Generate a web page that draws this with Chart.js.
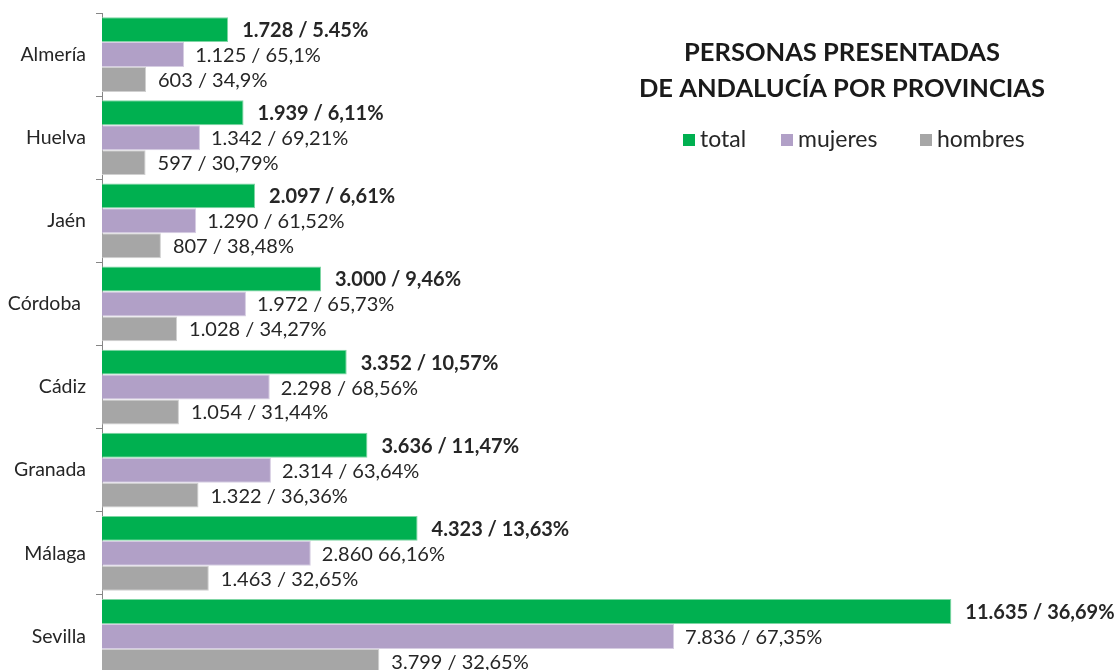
<!DOCTYPE html>
<html>
<head>
<meta charset="utf-8">
<script src="https://cdn.jsdelivr.net/npm/chart.js@4"></script>
<style>
html,body{margin:0;padding:0;background:#fff;overflow:hidden;width:1120px;height:670px;}
#wrap{position:absolute;left:0;top:0;width:1124px;height:680px;}
</style>
</head>
<body>
<div id="wrap"><canvas id="c" width="1124" height="680"></canvas></div>
<script>
const categories = ["Almería","Huelva","Jaén","Córdoba ","Cádiz","Granada","Málaga","Sevilla"];
const totalValues = [1728,1939,2097,3000,3352,3636,4323,11635];
const mujeresValues = [1125,1342,1290,1972,2298,2314,2860,7836];
const hombresValues = [603,597,807,1028,1054,1322,1463,3799];
const totalLabels = ["1.728 / 5.45%","1.939 / 6,11%","2.097 / 6,61%","3.000 / 9,46%","3.352 / 10,57%","3.636 / 11,47%","4.323 / 13,63%","11.635 / 36,69%"];
const mujeresLabels = ["1.125 / 65,1%","1.342 / 69,21%","1.290 / 61,52%","1.972 / 65,73%","2.298 / 68,56%","2.314 / 63,64%","2.860 66,16%","7.836 / 67,35%"];
const hombresLabels = ["603 / 34,9%","597 / 30,79%","807 / 38,48%","1.028 / 34,27%","1.054 / 31,44%","1.322 / 36,36%","1.463 / 32,65%","3.799 / 32,65%"];
const seriesNames = ["total","mujeres","hombres"];
const titleLines = ["PERSONAS PRESENTADAS","DE ANDALUCÍA POR PROVINCIAS"];

const colors = ["#00B050","#B1A0C7","#A6A6A6"];
const FONT = "Lato, 'Open Sans', sans-serif";

const valueLabels = {
  id: 'valueLabels',
  afterDatasetsDraw(chart) {
    const ctx = chart.ctx;
    const all = [totalLabels, mujeresLabels, hombresLabels];
    const gaps = [14, 11, 12];
    ctx.save();
    ctx.fillStyle = "#262626";
    ctx.textBaseline = "middle";
    ctx.textAlign = "left";
    for (let d = 0; d < 3; d++) {
      ctx.font = (d === 0 ? "bold " : "") + "20px " + FONT;
      chart.getDatasetMeta(d).data.forEach((el, i) => {
        ctx.fillText(all[d][i], el.x + gaps[d], el.y + 1);
      });
    }
    ctx.restore();
  }
};

const titleLegend = {
  id: 'titleLegend',
  afterDraw(chart) {
    const ctx = chart.ctx;
    ctx.save();
    ctx.fillStyle = "#1a1a1a";
    ctx.textAlign = "center";
    ctx.textBaseline = "middle";
    ctx.font = "bold 25.5px " + FONT;
    ctx.fillText(titleLines[0], 842, 53);
    ctx.fillText(titleLines[1], 842, 89);
    ctx.font = "23px " + FONT;
    ctx.textAlign = "left";
    const xs = [683, 781, 920];
    for (let k = 0; k < 3; k++) {
      ctx.fillStyle = colors[k];
      ctx.fillRect(xs[k], 134, 12, 12);
      ctx.fillStyle = "#262626";
      ctx.fillText(seriesNames[k], xs[k] + 17, 140);
    }
    ctx.restore();
  }
};

new Chart(document.getElementById('c'), {
  type: 'bar',
  data: {
    labels: categories,
    datasets: [
      {label: seriesNames[0], data: totalValues, backgroundColor: colors[0], borderColor: "#7fd6a4", borderWidth: 1},
      {label: seriesNames[1], data: mujeresValues, backgroundColor: colors[1], borderColor: "#d6cde2", borderWidth: 1},
      {label: seriesNames[2], data: hombresValues, backgroundColor: colors[2], borderColor: "#d0d0d0", borderWidth: 1}
    ]
  },
  options: {
    indexAxis: 'y',
    responsive: false,
    animation: false,
    devicePixelRatio: 1,
    layout: {padding: {top: 13, bottom: 2, left: 0, right: 0}},
    plugins: {legend: {display: false}, title: {display: false}, tooltip: {enabled: false}},
    datasets: {bar: {categoryPercentage: 0.9, barPercentage: 1.0}},
    scales: {
      x: {display: false, min: 0, max: 14000},
      y: {
        afterFit(scale) { scale.width = 102; scale.paddingTop = 0; scale.paddingBottom = 0; },
        grid: {offset: true, drawOnChartArea: false, drawTicks: true, tickLength: 6, color: "#868686"},
        border: {display: true, color: "#868686", width: 1},
        ticks: {color: "#262626", font: {family: FONT, size: 19.5}, padding: 10}
      }
    }
  },
  plugins: [valueLabels, titleLegend]
});
</script>
</body>
</html>
